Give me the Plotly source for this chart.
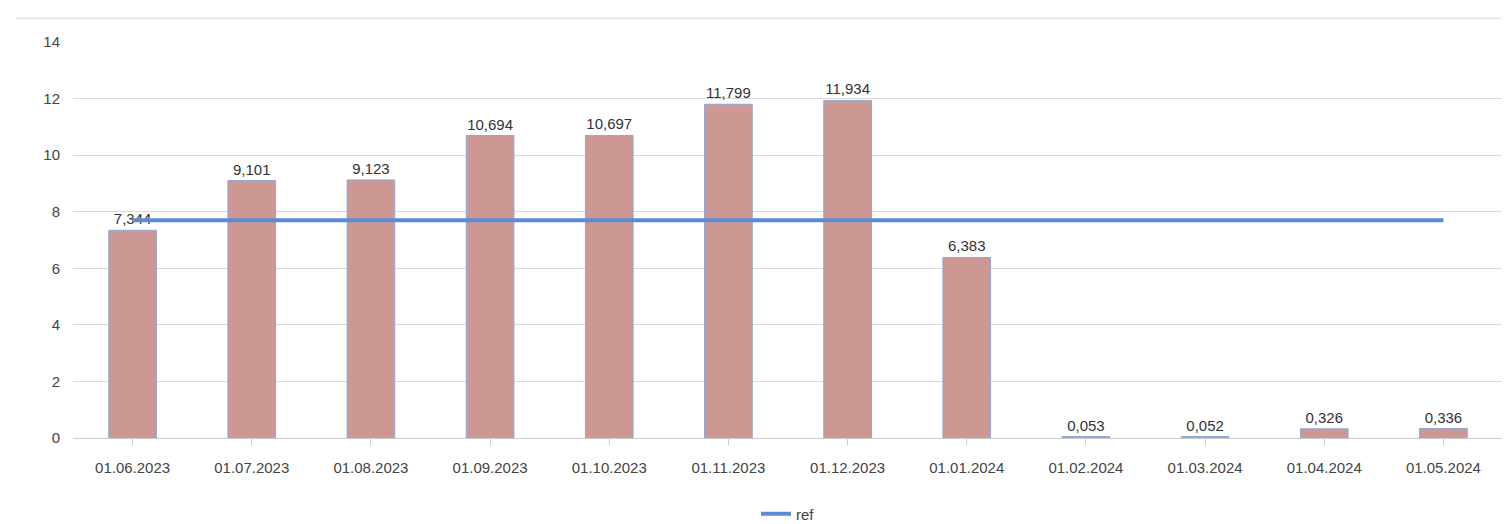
import plotly.graph_objects as go

dates = ["01.06.2023","01.07.2023","01.08.2023","01.09.2023","01.10.2023","01.11.2023",
         "01.12.2023","01.01.2024","01.02.2024","01.03.2024","01.04.2024","01.05.2024"]
values = [7.344, 9.101, 9.123, 10.694, 10.697, 11.799, 11.934, 6.383, 0.053, 0.052, 0.326, 0.336]
ref = [7.7]*len(dates)

labels = [f"{v:.3f}".replace(".", ",") for v in values]

fig = go.Figure()
fig.add_bar(x=dates, y=values, text=[l for l in labels], textposition="outside", cliponaxis=False,
            marker=dict(color="#CD9794", line=dict(color="#8FA8D8", width=1)),
            width=0.4, showlegend=False, textfont=dict(size=15, color="#333"))
fig.add_scatter(x=dates, y=ref, mode="lines", name="ref",
                line=dict(color="#5B8BD5", width=4))
fig.update_layout(
    width=1510, height=524, plot_bgcolor="white", paper_bgcolor="white",
    margin=dict(l=65, r=15, t=34, b=94, autoexpand=False),
    font=dict(family="Liberation Sans, Arial", size=15, color="#444"),
    legend=dict(orientation="h", x=0.5, xanchor="center", y=-0.15, yanchor="top",
                font=dict(size=15)),
    xaxis=dict(showline=True, linecolor="#ccc", ticks="outside", tickcolor="#ccc",
               ticklen=6, showgrid=False, automargin=False, ticklabelstandoff=10),
    yaxis=dict(range=[0, 14], dtick=2, gridcolor="#d9d9d9", zeroline=False,
               ticks="", ticklabelstandoff=12, automargin=False),
)
fig.add_shape(type="line", xref="paper", yref="paper", x0=-0.04, x1=1, y0=1.06, y1=1.06,
              line=dict(color="#d9d9d9", width=1))
fig.write_html("out.html")
